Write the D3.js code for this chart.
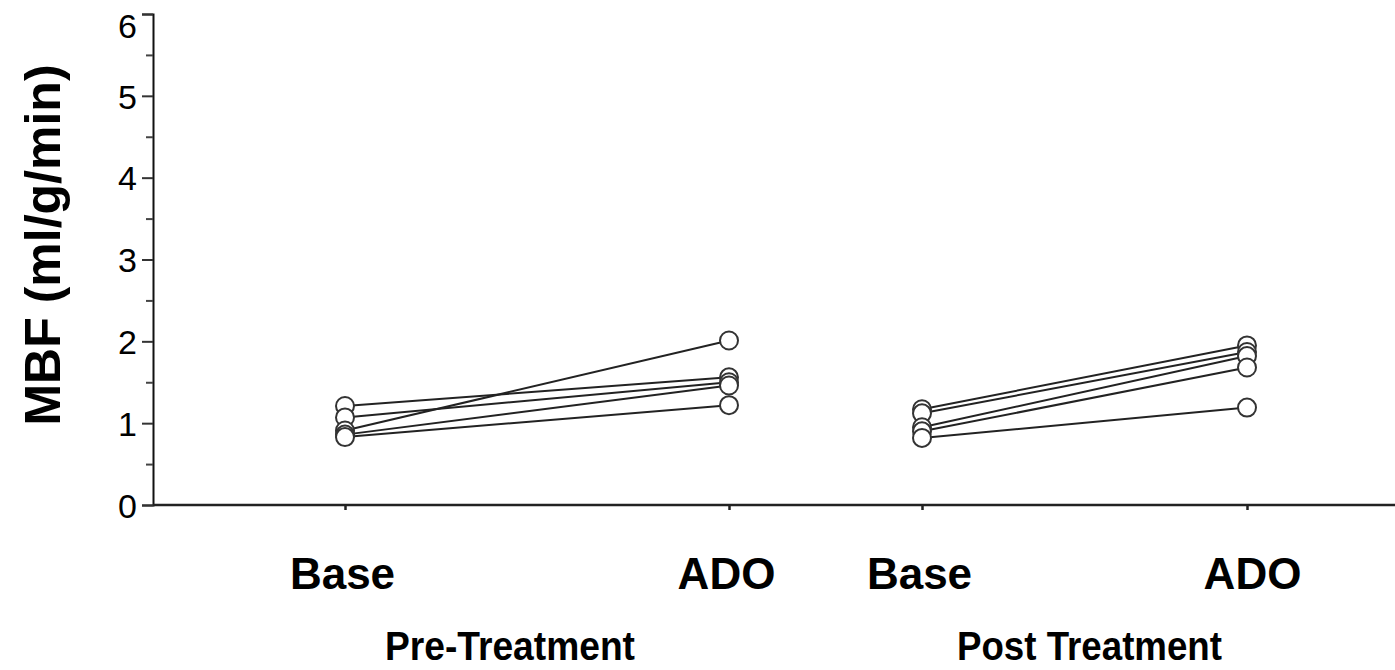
<!DOCTYPE html>
<meta charset="utf-8">
<style>
body { margin: 0; background: #fff; }
text { font-family: "Liberation Sans", Arial, sans-serif; fill: #000; }
</style>
<body>
<svg id="chart" width="1395" height="670"></svg>
<script src="https://cdn.jsdelivr.net/npm/d3@7/dist/d3.min.js"></script>
<script>
// data
var groups = ["Pre-Treatment", "Post Treatment"];
var conditions = ["Base", "ADO"];
var yTicks = [0, 1, 2, 3, 4, 5, 6];
var yMinor = [0.5, 1.5, 2.5, 3.5, 4.5, 5.5];

var preBase  = [1.21, 1.07, 0.91, 0.86, 0.83];
var preAdo   = [1.56, 1.50, 2.01, 1.46, 1.22];
var postBase = [1.17, 1.12, 0.95, 0.90, 0.82];
var postAdo  = [1.95, 1.87, 1.82, 1.68, 1.19];

var series = [
  {group: groups[0], base: preBase, ado: preAdo},
  {group: groups[1], base: postBase, ado: postAdo}
];

var svg = d3.select("#chart");

var keys = [];
groups.forEach(function(g) { conditions.forEach(function(c) { keys.push(g + "|" + c); }); });

// x positions are not evenly spaced in the original
var x = d3.scaleOrdinal().domain(keys).range([345, 729, 922, 1247]);
var y = d3.scaleLinear().domain([0, 6]).range([505, 14]);

var axisLeftX = 153;

// y axis, major and minor ticks
var yAxis = svg.append("g")
    .attr("transform", "translate(" + axisLeftX + ",0)")
    .call(d3.axisLeft(y).tickValues(yTicks).tickSize(11).tickPadding(5).tickFormat(d3.format("d")));
yAxis.select(".domain").attr("stroke-width", 2).attr("stroke", "#111");
yAxis.selectAll(".tick line").attr("stroke-width", 2).attr("stroke", "#333");
yAxis.selectAll(".tick text")
    .style("font-size", "34px")
    .attr("dy", function(d) { return d === 6 ? "0.7em" : "0.36em"; });

var yMinorAxis = svg.append("g")
    .attr("transform", "translate(" + axisLeftX + ",0)")
    .call(d3.axisLeft(y).tickValues(yMinor).tickSize(7).tickFormat(""));
yMinorAxis.select(".domain").remove();
yMinorAxis.selectAll(".tick line").attr("stroke-width", 2).attr("stroke", "#444");

// x axis
svg.append("line")
    .attr("x1", axisLeftX).attr("x2", 1395)
    .attr("y1", y(0)).attr("y2", y(0))
    .attr("stroke", "#222").attr("stroke-width", 2.5);

var xAxis = svg.append("g")
    .attr("transform", "translate(0," + y(0) + ")")
    .call(d3.axisBottom(x).tickSize(5).tickPadding(48)
      .tickFormat(function(d) { return d.split("|")[1]; }));
xAxis.select(".domain").remove();
xAxis.selectAll(".tick line").attr("stroke-width", 2.5).attr("stroke", "#222");
xAxis.selectAll(".tick text")
    .style("font-size", "44px")
    .style("font-weight", "bold")
    .attr("dx", function(d, i) { return i === 3 ? "5" : "-3"; });

// group labels
var labelShift = [-27, 5];
svg.selectAll(".group-label")
  .data(groups)
  .enter().append("text")
    .attr("class", "group-label")
    .attr("x", function(g, i) { return (x(g + "|Base") + x(g + "|ADO")) / 2 + labelShift[i]; })
    .attr("y", 660)
    .attr("text-anchor", "middle")
    .attr("textLength", function(g, i) { return i === 0 ? 250 : 265; })
    .attr("lengthAdjust", "spacingAndGlyphs")
    .style("font-size", "40px")
    .style("font-weight", "bold")
    .text(function(g) { return g; });

// y title
svg.append("text")
    .attr("transform", "translate(60," + 245 + ") rotate(-90)")
    .attr("text-anchor", "middle")
    .style("font-size", "50px")
    .style("font-weight", "bold")
    .text("MBF (ml/g/min)");

// paired lines then circles
series.forEach(function(s) {
  var pairs = s.base.map(function(b, i) { return [b, s.ado[i]]; });
  var xb = x(s.group + "|Base"), xa = x(s.group + "|ADO");

  svg.append("g").selectAll("line")
    .data(pairs)
    .enter().append("line")
      .attr("x1", xb).attr("y1", function(d) { return y(d[0]); })
      .attr("x2", xa).attr("y2", function(d) { return y(d[1]); })
      .attr("stroke", "#222")
      .attr("stroke-width", 2);

  var pts = [];
  pairs.forEach(function(d) {
    pts.push({cx: xb, v: d[0]});
    pts.push({cx: xa, v: d[1]});
  });
  svg.append("g").selectAll("circle")
    .data(pts)
    .enter().append("circle")
      .attr("cx", function(d) { return d.cx; })
      .attr("cy", function(d) { return y(d.v); })
      .attr("r", 9)
      .attr("fill", "#fff")
      .attr("stroke", "#333")
      .attr("stroke-width", 2);
});
</script>
</body>
